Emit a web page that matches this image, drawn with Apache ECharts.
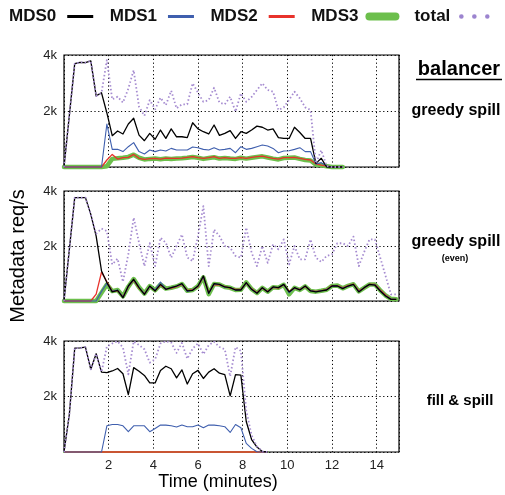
<!DOCTYPE html>
<html>
<head>
<meta charset="utf-8">
<script src="https://cdn.jsdelivr.net/npm/echarts@6/dist/echarts.min.js"></script>
<style>
  html, body { margin: 0; padding: 0; background: #fff; }
  #chart { width: 505px; height: 495px; }
</style>
</head>
<body>
<div id="chart"></div>
<script>
// sample times (minutes), one sample every ~14.4 s
var times = [0, 0.24, 0.48, 0.72, 0.96, 1.2, 1.44, 1.68, 1.92, 2.16, 2.4, 2.64, 2.88, 3.12, 3.36, 3.6, 3.84,
  4.08, 4.32, 4.56, 4.8, 5.04, 5.28, 5.52, 5.76, 6, 6.24, 6.48, 6.72, 6.96, 7.2, 7.44, 7.68, 7.92, 8.16, 8.4,
  8.64, 8.88, 9.12, 9.36, 9.6, 9.84, 10.08, 10.32, 10.56, 10.8, 11.04, 11.28, 11.52, 11.76, 12, 12.24, 12.48,
  12.72, 12.96, 13.2, 13.44, 13.68, 13.92, 14.16, 14.4, 14.64, 14.88];

var seriesNames = ["MDS0", "MDS1", "MDS2", "MDS3", "total"];
var panelLabels = ["greedy spill", "greedy spill", "fill & spill"];
var yTicks = [0, 2000, 4000];
var xTicks = [2, 4, 6, 8, 10, 12, 14];

// panel 1: greedy spill
var greedyMds0 = [0, 1850, 3690, 3740, 3730, 3790, 2540, 2650, 1930, 1120, 1285, 1180, 1535, 1740, 1140, 940,
  1200, 990, 1320, 1020, 1360, 1080, 1080, 1050, 1580, 1360, 1260, 1180, 1500, 1130, 1200, 1300, 1020, 1260,
  1200, 1320, 1460, 1420, 1320, 1360, 1050, 1020, 1020, 1420, 1230, 1020, 1020, 130, 310, 0, 0, 0, 0];
var greedyMds1 = [0, 0, 0, 0, 0, 0, 0, 0, 1535, 630, 630, 550, 725, 870, 550, 465, 605, 550, 605, 570, 665,
  605, 605, 605, 715, 690, 630, 605, 690, 605, 630, 665, 510, 725, 630, 665, 725, 785, 750, 665, 510, 570,
  580, 630, 690, 550, 550, 110, 155, 35, 0, 0, 0];
var greedyMds2 = [0, 0, 0, 0, 0, 0, 0, 0, 250, 450, 285, 335, 345, 450, 310, 275, 300, 310, 285, 320, 310,
  310, 320, 345, 370, 335, 310, 335, 370, 310, 335, 310, 310, 335, 310, 345, 370, 390, 345, 310, 285, 335,
  335, 345, 310, 275, 250, 110, 70, 35, 0, 0, 0];
var greedyMds3 = [0, 0, 0, 0, 0, 0, 0, 0, 30, 290, 310, 330, 360, 440, 330, 270, 290, 300, 280, 300, 290,
  300, 310, 330, 360, 330, 290, 320, 350, 300, 320, 300, 290, 330, 300, 330, 360, 380, 340, 300, 270, 320,
  330, 340, 290, 250, 230, 80, 60, 30, 0, 0, 0];
var greedyTotal = [0, 1850, 3690, 3740, 3730, 3790, 2540, 2650, 3820, 2415, 2510, 2300, 2800, 3460, 2150,
  1830, 2390, 2060, 2475, 2210, 2725, 2095, 2240, 2240, 2990, 2650, 2330, 2390, 2830, 2300, 2240, 2510, 1975,
  2630, 2330, 2500, 2750, 2990, 2750, 2690, 2035, 2130, 2400, 2690, 2450, 2130, 2035, 130, 600, 35, 0, 0, 0];

// panel 2: greedy spill (even)
var evenMds0 = [0, 1880, 3760, 3760, 3760, 3150, 2360, 1090, 670, 330, 390, 120, 545, 790, 485, 240, 545,
  365, 605, 425, 485, 545, 630, 365, 390, 545, 910, 280, 630, 605, 510, 485, 400, 400, 670, 425, 280, 485,
  330, 510, 485, 605, 330, 485, 400, 545, 365, 330, 365, 400, 545, 545, 450, 545, 605, 330, 485, 605, 580,
  365, 180, 60, 60];
var evenMds1 = [0, 0, 0, 0, 0, 0, 0, 350, 640, 350, 400, 140, 530, 770, 500, 250, 530, 400, 690, 430, 490,
  540, 620, 350, 400, 540, 890, 270, 620, 600, 500, 490, 390, 410, 660, 420, 290, 480, 340, 500, 480, 600,
  300, 480, 410, 540, 370, 340, 370, 410, 540, 550, 460, 540, 600, 340, 480, 600, 590, 380, 190, 70, 60];
var evenMds2 = [0, 0, 0, 0, 0, 0, 250, 1050, 700, 360, 380, 150, 520, 760, 470, 260, 520, 380, 580, 440,
  470, 520, 600, 380, 410, 520, 880, 300, 600, 590, 520, 470, 420, 420, 650, 440, 300, 470, 350, 500, 470,
  590, 350, 470, 420, 530, 380, 350, 380, 420, 560, 560, 480, 560, 610, 370, 470, 600, 600, 400, 220, 70, 60];
var evenMds3 = [0, 0, 0, 0, 0, 0, 0, 300, 600, 360, 400, 170, 520, 800, 500, 270, 540, 390, 600, 450, 480,
  530, 620, 370, 400, 540, 860, 250, 620, 600, 510, 480, 400, 410, 680, 430, 290, 480, 340, 500, 480, 590,
  240, 480, 400, 530, 360, 340, 370, 410, 550, 560, 460, 550, 610, 350, 480, 600, 600, 390, 200, 80, 60];
var evenTotal = [0, 1880, 3760, 3760, 3760, 3150, 2450, 2630, 2545, 1330, 1540, 700, 1700, 3030, 2120, 1270,
  2100, 1270, 2300, 2120, 1575, 2000, 2420, 1580, 1450, 2360, 3450, 1270, 2600, 2360, 2000, 1940, 1640, 1575,
  2670, 1760, 1270, 2000, 1390, 2060, 1880, 2240, 1330, 2000, 1515, 1515, 2240, 1575, 1420, 1640, 1700, 2100,
  2100, 2000, 2340, 1270, 1780, 2240, 2240, 1575, 910, 240, 240];

// panel 3: fill & spill
var fillMds0 = [0, 1360, 3740, 3750, 3780, 2980, 3540, 2880, 2860, 2920, 3010, 2820, 2070, 3040, 2910, 2760,
  2490, 2490, 2940, 3090, 3000, 2670, 2960, 2450, 2820, 2940, 2650, 2880, 3000, 2840, 2790, 2020, 2790, 2770,
  1100, 450, 180, 20, 0];
var fillMds1 = [0, 0, 0, 0, 0, 0, 0, 0, 945, 990, 990, 945, 730, 945, 945, 945, 730, 850, 970, 970, 945, 900,
  970, 910, 910, 970, 875, 970, 970, 945, 910, 705, 990, 875, 310, 130, 10, 0, 0];
var fillMds2 = [0, 0, 0, 0, 0, 0, 0, 0, 0, 0, 0, 0, 0, 0, 0, 0, 0, 0, 0, 0, 0, 0, 0, 0, 0, 0, 0, 0, 0, 0, 0, 0,
  0, 0, 0, 0, 0, 0, 0];
var fillMds3 = [0, 0, 0, 0, 0, 0, 0, 0, 0, 0, 0, 0, 0, 0, 0, 0, 0, 0, 0, 0, 0, 0, 0, 0, 0, 0, 0, 0, 0, 0, 0, 0,
  0, 0, 0, 0, 0, 0, 0];
var fillTotal = [0, 1360, 3740, 3750, 3780, 2980, 3540, 2880, 3800, 3910, 3990, 3765, 2800, 3985, 3855, 3705,
  3220, 3340, 3910, 3990, 3945, 3570, 3930, 3360, 3730, 3910, 3525, 3850, 3970, 3785, 3700, 2725, 3780, 3645,
  1500, 600, 200, 20, 0];

var panels = [
  [greedyMds0, greedyMds1, greedyMds2, greedyMds3, greedyTotal],
  [evenMds0, evenMds1, evenMds2, evenMds3, evenTotal],
  [fillMds0, fillMds1, fillMds2, fillMds3, fillTotal]
];

var FONT = "'Liberation Sans', Arial, Helvetica, sans-serif";
var colors = ["#000000", "#3f5fae", "#e8322b", "#6cbf4c", "#a58bd0"];
var widths = [1.3, 1.1, 1.3, 4.5, 1.8];
var gridTops = [55, 191, 341];
var gridHeights = [112, 110, 111];

function pairs(vals) {
  return vals.map(function (v, i) { return [times[i], v]; });
}

var grids = [], xAxes = [], yAxes = [], series = [];
for (var k = 0; k < 3; k++) {
  grids.push({
    left: 64, right: 106, top: gridTops[k], height: gridHeights[k],
    show: true, borderColor: "#000", borderWidth: 1.2, backgroundColor: "transparent"
  });
  xAxes.push({
    type: "value", gridIndex: k, min: 0, max: 15, interval: 2,
    axisLine: { show: false }, axisTick: { show: false },
    axisLabel: {
      show: k === 2, fontSize: 13, color: "#222", margin: 7, fontFamily: FONT,
      formatter: function (v) { return xTicks.indexOf(v) >= 0 ? String(v) : ""; }
    },
    splitLine: { show: true, lineStyle: { color: "#000", width: 1, type: [1.2, 2.6] } }
  });
  yAxes.push({
    type: "value", gridIndex: k, min: 0, max: 4000, interval: 2000,
    axisLine: { show: false }, axisTick: { show: false },
    axisLabel: {
      fontSize: 13, color: "#222", margin: 7, fontFamily: FONT,
      formatter: function (v) { return v > 0 && yTicks.indexOf(v) >= 0 ? v / 1000 + "k" : ""; }
    },
    splitLine: { show: true, lineStyle: { color: "#000", width: 1, type: [1.2, 2.6] } }
  });
  // draw order: green under red under blue under black, total on top
  [3, 2, 1, 0, 4].forEach(function (j) {
    var w = widths[j];
    if (k === 2 && j === 3) w = 2;
    series.push({
      name: seriesNames[j], type: "line", xAxisIndex: k, yAxisIndex: k,
      data: pairs(panels[k][j]), symbol: "none", showSymbol: false, clip: false,
      silent: true, animation: false, color: colors[j],
      lineStyle: {
        color: colors[j], width: w,
        type: j === 4 ? [1.5, 2.3] : "solid", cap: j === 3 ? "round" : "butt", join: "round"
      }
    });
  });
}

var legendData = seriesNames.map(function (n, j) {
  var ls = { width: 3, color: colors[j] };
  if (j === 3) ls = { width: 8, color: colors[j], cap: "round" };
  if (j === 4) ls = { width: 4.5, color: "#9c84cf", type: [0.1, 12.9], cap: "round" };
  return { name: n, lineStyle: ls, itemStyle: { opacity: 0 } };
});

var chart = echarts.init(document.getElementById("chart"), null, { renderer: "canvas" });
chart.setOption({
  backgroundColor: "#fff",
  animation: false,
  legend: {
    top: 3, left: 4, align: "right", itemWidth: 26, itemHeight: 14, itemGap: 15,
    textStyle: { fontSize: 17, fontWeight: "bold", color: "#111", fontFamily: FONT, padding: [0, 6, 0, 0] },
    data: legendData, selectedMode: false
  },
  grid: grids,
  xAxis: xAxes,
  yAxis: yAxes,
  series: series,
  graphic: [
    { type: "text", x: 459, y: 69, style: { text: "balancer", fontSize: 20, fontWeight: "bold", fontFamily: FONT, fill: "#000", align: "center", verticalAlign: "middle" } },
    { type: "line", shape: { x1: 416, y1: 79.5, x2: 502, y2: 79.5 }, style: { stroke: "#000", lineWidth: 1.5 } },
    { type: "text", x: 456, y: 111, style: { text: panelLabels[0], fontSize: 16, fontWeight: "bold", fontFamily: FONT, fill: "#000", align: "center", verticalAlign: "middle" } },
    { type: "text", x: 456, y: 242, style: { text: panelLabels[1], fontSize: 16, fontWeight: "bold", fontFamily: FONT, fill: "#000", align: "center", verticalAlign: "middle" } },
    { type: "text", x: 455, y: 259, style: { text: "(even)", fontSize: 9, fontWeight: "bold", fontFamily: FONT, fill: "#000", align: "center", verticalAlign: "middle" } },
    { type: "text", x: 460, y: 401, style: { text: panelLabels[2], fontSize: 15, fontWeight: "bold", fontFamily: FONT, fill: "#000", align: "center", verticalAlign: "middle" } },
    { type: "text", x: 218, y: 482, style: { text: "Time (minutes)", fontSize: 18, fontFamily: FONT, fill: "#000", align: "center", verticalAlign: "middle" } },
    { type: "text", x: 18, y: 256, rotation: Math.PI / 2, style: { text: "Metadata req/s", fontSize: 20, fontFamily: FONT, fill: "#000", align: "center", verticalAlign: "middle" } }
  ]
});
</script>
</body>
</html>
